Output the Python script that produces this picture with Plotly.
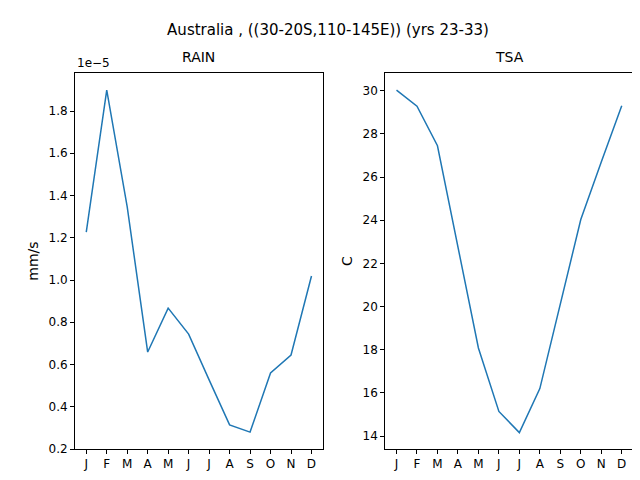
import plotly.graph_objects as go
from plotly.subplots import make_subplots

months = ["J","F","M","A","M","J","J","A","S","O","N","D"]
rain = [1.227e-5,1.899e-5,1.346e-5,0.659e-5,0.867e-5,0.744e-5,0.527e-5,0.314e-5,0.28e-5,0.56e-5,0.645e-5,1.019e-5]
tsa = [30.03,29.28,27.45,22.8,18.08,15.14,14.16,16.2,20.1,24.03,26.7,29.3]
rain_ticks = [0.2,0.4,0.6,0.8,1.0,1.2,1.4,1.6,1.8]
tsa_ticks = [14,16,18,20,22,24,26,28,30]

x = list(range(12))
fig = make_subplots(rows=1, cols=2, horizontal_spacing=0.112)
c = "#1f77b4"
fig.add_trace(go.Scatter(x=x, y=rain, mode="lines", line=dict(color=c, width=1.5)), 1, 1)
fig.add_trace(go.Scatter(x=x, y=tsa, mode="lines", line=dict(color=c, width=1.5)), 1, 2)

ax = dict(showgrid=False, zeroline=False, showline=True, mirror=True, linecolor="black",
          ticks="outside", ticklen=4, tickcolor="black", automargin=False)
for col in (1, 2):
    fig.update_xaxes(range=[-0.55, 11.55], tickvals=x, ticktext=months, row=1, col=col, **ax)
fig.update_yaxes(range=[0.2e-5, 1.98e-5], tickvals=[t*1e-5 for t in rain_ticks],
                 ticktext=[f"{t:.1f}" for t in rain_ticks], title_text="mm/s", title_standoff=6, row=1, col=1, **ax)
fig.update_yaxes(range=[13.4, 30.82], tickvals=tsa_ticks, ticktext=[str(t) for t in tsa_ticks],
                 title_text="C", title_standoff=6, row=1, col=2, **ax)

fig.update_layout(
    width=640, height=480, showlegend=False, plot_bgcolor="white", paper_bgcolor="white",
    margin=dict(l=67, r=15, t=65, b=39, autoexpand=False),
    font=dict(family="DejaVu Sans", size=12, color="black"),
    title=dict(text="Australia , ((30-20S,110-145E)) (yrs 23-33)", x=0.5, xanchor="center", y=0.965, font=dict(size=15), automargin=False),
    annotations=[
        dict(text="RAIN", xref="x domain", yref="paper", x=0.5, y=1.0, yshift=6, showarrow=False, yanchor="bottom", font=dict(size=14)),
        dict(text="TSA", xref="x2 domain", yref="paper", x=0.5, y=1.0, yshift=6, showarrow=False, yanchor="bottom", font=dict(size=14)),
        dict(text="1e−5", xref="x domain", yref="paper", x=0, y=1.0, yshift=1, showarrow=False, xanchor="left", yanchor="bottom", font=dict(size=12)),
    ],
)
fig.write_html("out.html")
